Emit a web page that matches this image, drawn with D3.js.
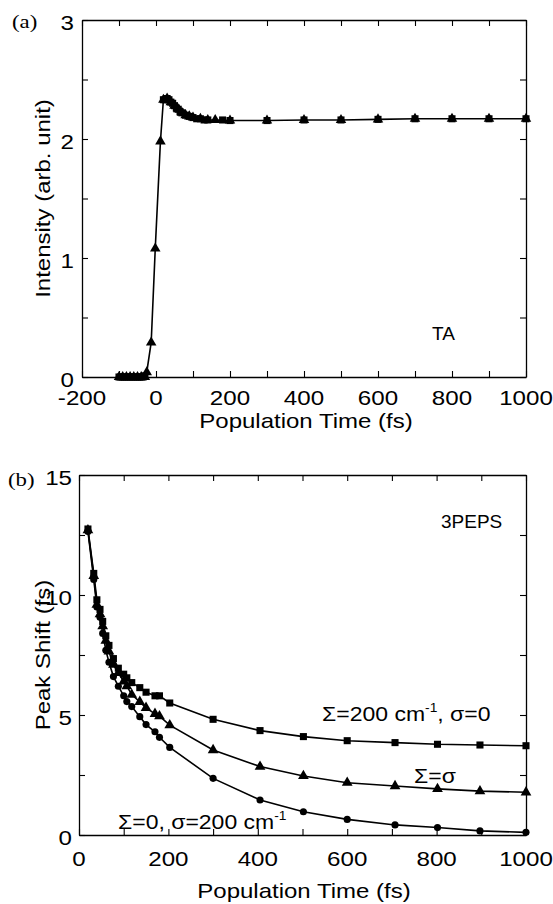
<!DOCTYPE html>
<html>
<head>
<meta charset="utf-8">
<script src="https://cdn.jsdelivr.net/npm/d3@7"></script>
<style>
  body { margin: 0; background: #fff; }
  svg { display: block; }
</style>
</head>
<body>
<div id="chart"></div>
<script>
// ---- data ----
// (a) TA transient, triangles carry the full trace, squares overlay it
const taTriTime  = [-100, -90, -80, -70, -60, -50, -40, -30, -25, -13, -2, 12, 20, 30, 40, 50, 60, 70, 80, 90, 100, 120, 140, 160, 200, 300, 400, 500, 600, 700, 800, 900, 1000];
const taTriValue = [0, 0, 0, 0, 0, 0, 0, 0, 0.04, 0.29, 1.08, 1.98, 2.33, 2.34, 2.31, 2.28, 2.25, 2.22, 2.2, 2.19, 2.18, 2.17, 2.16, 2.16, 2.155, 2.155, 2.16, 2.16, 2.165, 2.17, 2.17, 2.17, 2.17];
const taSqTime   = [-100, -95, -90, -85, -80, -75, -70, -65, -60, -55, -50, -45, -40, -35, -30, 20, 25, 30, 35, 40, 45, 50, 55, 60, 65, 70, 80, 90, 100, 110, 120, 130, 140, 180, 200, 300, 400, 500, 600, 700, 800, 900, 1000];
const taSqValue  = [0, 0, 0, 0, 0, 0, 0, 0, 0, 0, 0, 0, 0, 0, 0.01, 2.33, 2.33, 2.34, 2.33, 2.31, 2.3, 2.28, 2.26, 2.25, 2.23, 2.22, 2.2, 2.19, 2.18, 2.17, 2.17, 2.16, 2.16, 2.16, 2.155, 2.155, 2.16, 2.16, 2.165, 2.17, 2.17, 2.17, 2.17];

// (b) 3PEPS peak shift
const pepsTime    = [20, 33, 40, 47, 53, 60, 67, 77, 88, 100, 107, 118, 136, 150, 170, 180, 203, 300, 405, 502, 600, 707, 802, 897, 1000];
const pepsSquare  = [12.75, 10.9, 9.8, 9.4, 8.9, 8.3, 7.9, 7.35, 6.95, 6.7, 6.55, 6.35, 6.14, 5.95, 5.8, 5.8, 5.5, 4.82, 4.35, 4.1, 3.93, 3.85, 3.78, 3.75, 3.72];
const pepsTri     = [12.7, 10.8, 9.6, 9.2, 8.7, 8.1, 7.65, 7.1, 6.75, 6.4, 6.2, 5.85, 5.55, 5.3, 5.05, 4.95, 4.58, 3.54, 2.85, 2.46, 2.18, 2.04, 1.92, 1.83, 1.78];
const pepsCircle  = [12.65, 10.65, 9.5, 9.07, 8.4, 7.7, 7.2, 6.6, 6.2, 5.8, 5.56, 5.35, 4.93, 4.6, 4.3, 4.07, 3.65, 2.36, 1.46, 0.97, 0.65, 0.42, 0.31, 0.17, 0.11];

// tick labels
const taXLabels   = [-200, 0, 200, 400, 600, 800, 1000];
const taYLabels   = [0, 1, 2, 3];
const pepsXLabels = [0, 200, 400, 600, 800, 1000];
const pepsYLabels = [0, 5, 10, 15];

const W = 553, H = 904;
const SANS = "'Liberation Sans', Arial, sans-serif";
const SERIF = "'Liberation Serif', 'Times New Roman', serif";
const SX = 1.15;   // the original lettering is a bit wide

const svg = d3.select("#chart").append("svg")
  .attr("width", W).attr("height", H);

// text helper, horizontally stretched glyphs
function label(g, x, y, str, size, anchor = "start", sx = SX) {
  return g.append("text")
    .attr("transform", `translate(${x},${y}) scale(${sx},1)`)
    .attr("text-anchor", anchor)
    .style("font-family", SANS)
    .style("font-size", size + "px")
    .attr("fill", "#000")
    .text(str);
}

// draws frame + inward ticks on all 4 sides
function frame(g, x, y, xTicks, yTicks) {
  const [x0, x1] = x.range();
  const [y0, y1] = y.range();
  const tk = 6;
  g.append("g").attr("transform", `translate(0,${y0})`)
    .call(d3.axisBottom(x).tickValues(xTicks).tickSizeInner(-tk).tickSizeOuter(0).tickFormat(""));
  g.append("g").attr("transform", `translate(0,${y1})`)
    .call(d3.axisTop(x).tickValues(xTicks).tickSizeInner(-tk).tickSizeOuter(0).tickFormat(""));
  g.append("g").attr("transform", `translate(${x0},0)`)
    .call(d3.axisLeft(y).tickValues(yTicks).tickSizeInner(-tk).tickSizeOuter(0).tickFormat(""));
  g.append("g").attr("transform", `translate(${x1},0)`)
    .call(d3.axisRight(y).tickValues(yTicks).tickSizeInner(-tk).tickSizeOuter(0).tickFormat(""));
  g.selectAll(".domain").attr("stroke", "#000").attr("stroke-width", 1.3);
  g.selectAll(".tick line").attr("stroke", "#000").attr("stroke-width", 1.1);
}

function series(g, x, y, xs, ys, shape, size, drawLine = true) {
  const pts = xs.map((t, i) => [t, ys[i]]);
  if (drawLine) {
    g.append("path")
      .datum(pts)
      .attr("d", d3.line().x(d => x(d[0])).y(d => y(d[1])))
      .attr("fill", "none")
      .attr("stroke", "#000")
      .attr("stroke-width", 1.6);
  }
  g.selectAll(null).data(pts).enter().append("path")
    .attr("transform", d => `translate(${x(d[0])},${y(d[1])})`)
    .attr("d", d3.symbol().type(shape).size(size))
    .attr("fill", "#000");
}

// ---------------- (a) TA ----------------
const xa = d3.scaleLinear().domain([-200, 1000]).range([82, 526]);
const ya = d3.scaleLinear().domain([0, 3]).range([377, 20]);
const ga = svg.append("g");

frame(ga, xa, ya, d3.range(-200, 1001, 100), d3.range(0, 3.01, 0.5));

series(ga, xa, ya, taTriTime, taTriValue, d3.symbolTriangle, 48, true);
series(ga, xa, ya, taSqTime, taSqValue, d3.symbolSquare, 50, false);

taXLabels.forEach(v => label(ga, xa(v), 405, v, 21, "middle"));
taYLabels.forEach(v => label(ga, 74, ya(v) + 10, v, 21, "end"));

label(ga, 306, 428, "Population Time (fs)", 20, "middle", 1.2);
ga.append("text")
  .attr("transform", `translate(50,${(ya.range()[0] + ya.range()[1]) / 2}) rotate(-90) scale(1.2,1)`)
  .attr("text-anchor", "middle")
  .style("font-family", SANS).style("font-size", "20px")
  .text("Intensity (arb. unit)");

label(ga, 432, 340, "TA", 19, "start", 1.0);
ga.append("text").attr("transform", "translate(12,28) scale(1.2,1)")
  .style("font-family", SERIF).style("font-size", "19px").text("(a)");

// ---------------- (b) 3PEPS ----------------
const xb = d3.scaleLinear().domain([0, 1000]).range([79, 526]);
const yb = d3.scaleLinear().domain([0, 15]).range([835, 475]);
const gb = svg.append("g");

frame(gb, xb, yb, d3.range(0, 1001, 100), d3.range(0, 15.01, 2.5));

series(gb, xb, yb, pepsTime, pepsSquare, d3.symbolSquare, 50);
series(gb, xb, yb, pepsTime, pepsTri, d3.symbolTriangle, 50);
series(gb, xb, yb, pepsTime, pepsCircle, d3.symbolCircle, 40);

pepsXLabels.forEach(v => label(gb, xb(v), 866, v, 21, "middle"));
pepsYLabels.forEach(v => label(gb, 72, yb(v) + 10, v, 21, "end"));

label(gb, 304, 898, "Population Time (fs)", 20, "middle", 1.2);
gb.append("text")
  .attr("transform", `translate(50,${(yb.range()[0] + yb.range()[1]) / 2}) rotate(-90) scale(1.2,1)`)
  .attr("text-anchor", "middle")
  .style("font-family", SANS).style("font-size", "20px")
  .text("Peak Shift (fs)");

label(gb, 441, 528, "3PEPS", 19, "start", 1.0);
gb.append("text").attr("transform", "translate(8,486) scale(1.2,1)")
  .style("font-family", SERIF).style("font-size", "19px").text("(b)");

// curve annotations with cm^-1 superscripts
function annot(g, x, y, pre, post) {
  const t = label(g, x, y, "", 20);
  t.append("tspan").text(pre);
  t.append("tspan").attr("dy", -9).style("font-size", "12px").text("-1");
  if (post) t.append("tspan").attr("dy", 9).text(post);
  return t;
}
annot(gb, 322, 721, "\u03A3=200 cm", ", \u03C3=0");
label(gb, 414, 783, "\u03A3=\u03C3", 20);
annot(gb, 118, 829, "\u03A3=0, \u03C3=200 cm", "");
</script>
</body>
</html>
